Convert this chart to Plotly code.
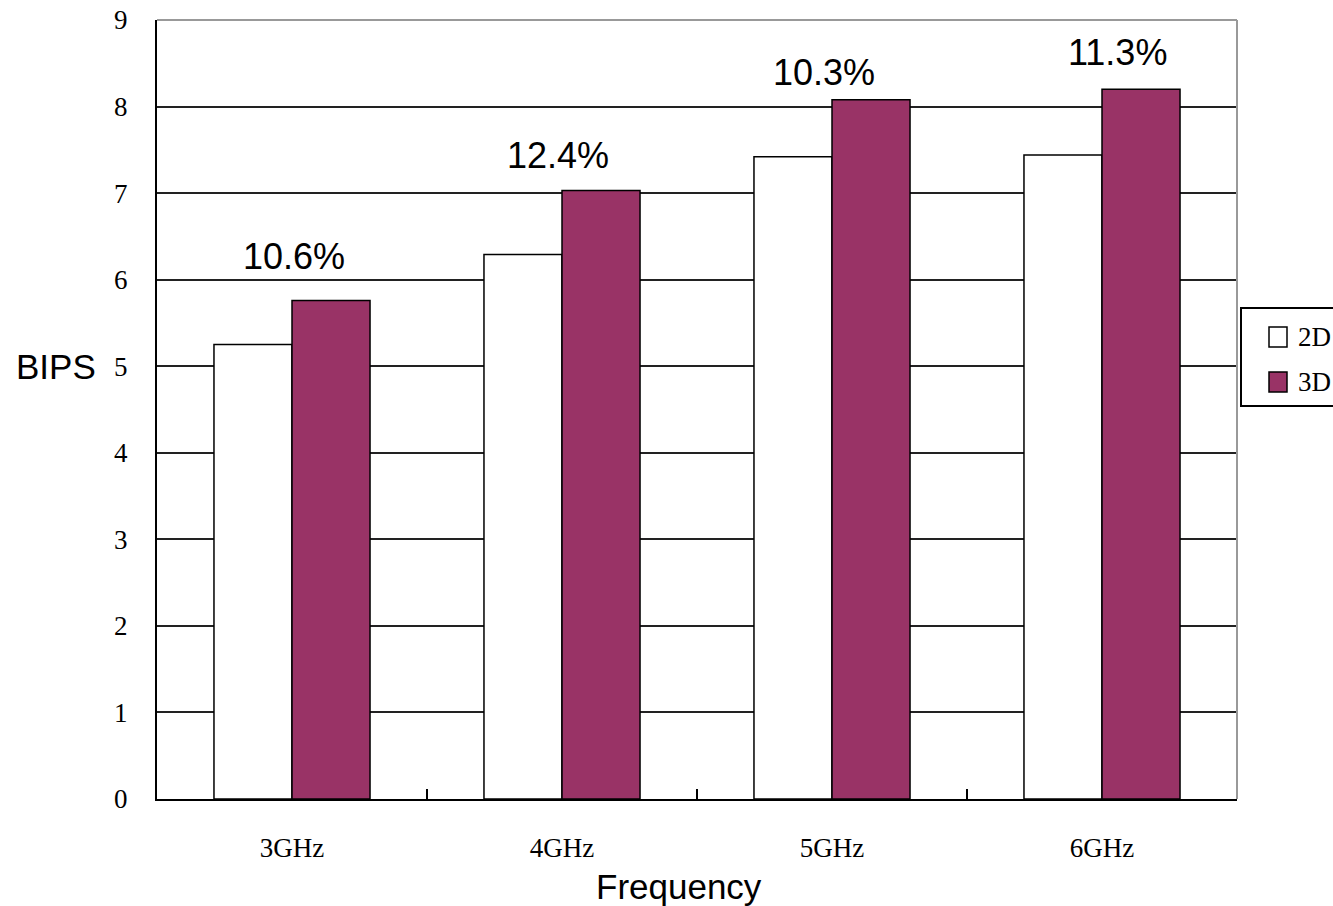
import plotly.graph_objects as go

# ---- data ----
categories = ["3GHz", "4GHz", "5GHz", "6GHz"]
bips_2d = [5.25, 6.29, 7.42, 7.44]
bips_3d = [5.76, 7.03, 8.08, 8.20]
gain_labels = ["10.6%", "12.4%", "10.3%", "11.3%"]
series_names = ["2D", "3D"]
y_ticks = list(range(0, 10))

# ---- styling / layout ----
W, H = 1333, 906
L, R, T, B = 157, 96, 20, 107
PW, PH = W - L - R, H - T - B
SERIF = "Liberation Serif, Times New Roman, serif"
SANS = "Liberation Sans, Arial, sans-serif"
C3D = "#993366"

def px(x):
    return (x - L) / PW

def py(y):
    return (H - B - y) / PH

# per-label fine offsets (pixels) for the gain annotations
label_dx = [2, -4, -8, 15]
label_dy = [44, 35, 27, 37]

fig = go.Figure()
fig.add_trace(go.Bar(x=categories, y=bips_2d, name=series_names[0],
                     marker=dict(color="white", line=dict(color="black", width=1.5)),
                     showlegend=False))
fig.add_trace(go.Bar(x=categories, y=bips_3d, name=series_names[1],
                     marker=dict(color=C3D, line=dict(color="black", width=1.5)),
                     showlegend=False))

annotations = []
for i, (c, v, t) in enumerate(zip(categories, bips_3d, gain_labels)):
    annotations.append(dict(x=c, y=v, xref="x", yref="y", text=t, showarrow=False,
                            xanchor="center", yanchor="middle",
                            xshift=label_dx[i], yshift=label_dy[i],
                            font=dict(family=SANS, size=36, color="black")))

# axis titles
annotations.append(dict(x=px(56), y=py(366), xref="paper", yref="paper", text="BIPS",
                        showarrow=False, xanchor="center", yanchor="middle",
                        font=dict(family=SANS, size=35, color="black")))
annotations.append(dict(x=px(679), y=py(886), xref="paper", yref="paper", text="Frequency",
                        showarrow=False, xanchor="center", yanchor="middle",
                        font=dict(family=SANS, size=35, color="black")))

# legend (drawn manually to match box geometry)
leg_items = [(series_names[0], "white", 337), (series_names[1], C3D, 382)]
shapes = [
    # top and right plot border (gray)
    dict(type="line", xref="paper", yref="paper", x0=0, x1=1, y0=1, y1=1,
         line=dict(color="#999999", width=2)),
    dict(type="line", xref="paper", yref="paper", x0=1, x1=1, y0=0, y1=1,
         line=dict(color="#999999", width=2)),
    # legend box
    dict(type="rect", xref="paper", yref="paper", x0=px(1241), x1=px(1345),
         y0=py(406), y1=py(308), line=dict(color="black", width=2), fillcolor="white"),
]
for name, col, yc in leg_items:
    shapes.append(dict(type="rect", xref="paper", yref="paper",
                       x0=px(1269), x1=px(1287), y0=py(yc + 10), y1=py(yc - 10),
                       line=dict(color="black", width=1.5), fillcolor=col))
    annotations.append(dict(x=px(1296), y=py(yc), xref="paper", yref="paper", text=name,
                            showarrow=False, xanchor="left", yanchor="middle",
                            font=dict(family=SERIF, size=27, color="black")))

fig.update_layout(
    width=W, height=H,
    margin=dict(l=L, r=R, t=T, b=B, pad=0, autoexpand=False),
    paper_bgcolor="white", plot_bgcolor="white",
    barmode="group", bargap=0.422, bargroupgap=0,
    showlegend=False,
    annotations=annotations,
    shapes=shapes,
    font=dict(family=SERIF, size=27, color="black"),
)
fig.update_xaxes(
    range=[-0.5, 3.5], showline=True, linecolor="black", linewidth=2,
    ticks="inside", tickson="boundaries", ticklen=10, tickwidth=2, tickcolor="black",
    showgrid=False, ticklabelstandoff=24, automargin=False,
    tickfont=dict(family=SERIF, size=27, color="black"),
)
fig.update_yaxes(
    range=[0, 9], tickvals=y_ticks, showline=True, linecolor="black", linewidth=2,
    showgrid=True, gridcolor="#222222", gridwidth=1.5, zeroline=False,
    ticks="", ticklabelstandoff=22, automargin=False,
    tickfont=dict(family=SERIF, size=27, color="black"),
)

fig.write_html("out.html")
